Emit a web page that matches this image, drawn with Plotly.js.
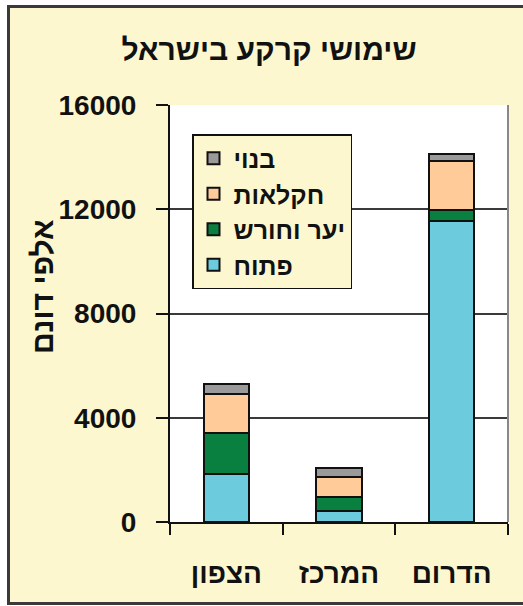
<!DOCTYPE html>
<html>
<head>
<meta charset="utf-8">
<script src="https://cdn.plot.ly/plotly-3.0.1.min.js"></script>
<style>
  html, body { margin: 0; padding: 0; background: #ffffff; overflow: hidden; }
  #frame {
    position: absolute; left: 7px; top: 5px; width: 540px; height: 600px;
    background: #fcf7cf; border: 3px solid #3a3a3a; border-right: none;
    box-sizing: border-box;
  }
  #chart { position: absolute; left: 0; top: 0; width: 523px; height: 606px; }
</style>
</head>
<body>
<div id="frame"></div>
<div id="chart"></div>
<script>
// Land use by region, thousands of dunams
const regions = ['הצפון', 'המרכז', 'הדרום'];
const openLand = [1840, 430, 11550];
const forest = [1590, 540, 420];
const agriculture = [1480, 745, 1890];
const builtUp = [380, 345, 260];

const seriesNames = ['פתוח', 'יער וחורש', 'חקלאות', 'בנוי'];
const seriesValues = [openLand, forest, agriculture, builtUp];
const seriesColors = ['#6ccbdc', '#0a8040', '#ffcc99', '#9a9a9a'];

const yTicks = [0, 4000, 8000, 12000, 16000];

const FONT = '"Liberation Sans", Arial, sans-serif';

const traces = seriesNames.map((name, i) => ({
  type: 'bar',
  name: name,
  x: regions,
  y: seriesValues[i],
  width: 0.4,
  marker: { color: seriesColors[i], line: { color: '#111111', width: 2 } },
  hoverinfo: 'skip'
}));

const layout = {
  width: 523,
  height: 606,
  barmode: 'stack',
  paper_bgcolor: 'rgba(0,0,0,0)',
  plot_bgcolor: '#ffffff',
  margin: { l: 170, r: 15, t: 105, b: 84, pad: 0 },
  title: {
    text: 'שימושי קרקע בישראל',
    font: { family: FONT, size: 30, color: '#111111', weight: 'bold' },
    x: 269 / 523, xanchor: 'center', xref: 'container',
    y: 1 - 49 / 606, yanchor: 'middle', yref: 'container'
  },
  xaxis: {
    type: 'category',
    range: [-0.5, 2.5],
    showline: true, linecolor: '#111111', linewidth: 2,
    ticks: 'outside', tickson: 'boundaries', ticklen: 11, tickwidth: 2, tickcolor: '#111111',
    ticklabelstandoff: 25,
    tickfont: { family: FONT, size: 28, color: '#111111', weight: 'bold' },
    showgrid: false, fixedrange: true
  },
  yaxis: {
    range: [0, 16000],
    tickvals: yTicks,
    ticktext: yTicks.map(String),
    showline: true, linecolor: '#111111', linewidth: 2,
    ticks: 'outside', ticklen: 12, tickwidth: 2, tickcolor: '#111111',
    ticklabelstandoff: 14,
    tickfont: { family: FONT, size: 28, color: '#111111', weight: 'bold' },
    showgrid: true, gridcolor: '#3a3a3a', gridwidth: 2,
    zeroline: false, fixedrange: true
  },
  shapes: [
    { type: 'line', xref: 'paper', yref: 'paper', x0: 1, x1: 1, y0: 0, y1: 1,
      line: { color: '#888888', width: 2 } }
  ],
  annotations: [
    { text: 'אלפי דונם', xref: 'paper', yref: 'paper',
      x: (42 - 170) / 338, y: (522 - 287) / 417,
      xanchor: 'center', yanchor: 'middle', textangle: -90, showarrow: false,
      font: { family: FONT, size: 30, color: '#111111', weight: 'bold' } }
  ],
  legend: {
    x: (192 - 170) / 338, y: (522 - 134) / 417,
    xanchor: 'left', yanchor: 'top',
    traceorder: 'reversed',
    bgcolor: '#fcf7cf', bordercolor: '#111111', borderwidth: 1.5,
    font: { family: FONT, size: 25, color: '#111111', weight: 'bold' }
  },
  showlegend: true
};

Plotly.newPlot('chart', traces, layout, { displayModeBar: false, staticPlot: true });
</script>
</body>
</html>
